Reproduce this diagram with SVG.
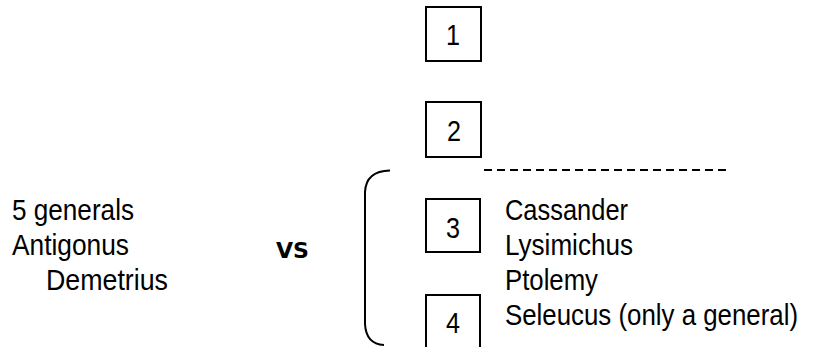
<svg xmlns="http://www.w3.org/2000/svg" width="819" height="347" viewBox="0 0 819 347">
<style>
  .box { fill: #ffffff; stroke: #000000; stroke-width: 2; }
  .t { font-family: "Liberation Sans Narrow", "Liberation Sans", Arial, sans-serif; font-size: 30px; fill: #000000; }
  .num { text-anchor: middle; }
  .vs { font-family: "DejaVu Sans", "Liberation Sans", sans-serif; font-weight: bold; font-size: 22px; fill: #000000; }
  .ln { fill: none; stroke: #000000; stroke-width: 2; }
</style>
<rect x="0" y="0" width="819" height="347" fill="#ffffff"/>
<g id="connectors">
  <path class="ln" d="M390,170.5 Q366,171 365,192 L365,324 Q366,344 384,345"/>
  <line class="ln" x1="484" y1="170" x2="727" y2="170" stroke-dasharray="8 5"/>
</g>
<g id="node-1">
  <rect class="box" x="426" y="7" width="55" height="54"/>
  <text class="t num" x="453" y="45" textLength="14" lengthAdjust="spacingAndGlyphs">1</text>
</g>
<g id="node-2">
  <rect class="box" x="426" y="102" width="55" height="55"/>
  <text class="t num" x="454" y="141" textLength="14" lengthAdjust="spacingAndGlyphs">2</text>
</g>
<g id="node-3">
  <rect class="box" x="426" y="199" width="54" height="53"/>
  <text class="t num" x="453" y="238" textLength="14" lengthAdjust="spacingAndGlyphs">3</text>
</g>
<g id="node-4">
  <rect class="box" x="426" y="295" width="54" height="56"/>
  <text class="t num" x="453" y="333" textLength="14" lengthAdjust="spacingAndGlyphs">4</text>
</g>
<g id="left-list">
  <text class="t" x="12" y="220" textLength="122" lengthAdjust="spacingAndGlyphs">5 generals</text>
  <text class="t" x="12" y="255" textLength="117" lengthAdjust="spacingAndGlyphs">Antigonus</text>
  <text class="t" x="46" y="290" textLength="122" lengthAdjust="spacingAndGlyphs">Demetrius</text>
</g>
<g id="vs">
  <text class="vs" x="276" y="258" textLength="33" lengthAdjust="spacingAndGlyphs">VS</text>
</g>
<g id="right-list">
  <text class="t" x="505" y="220" textLength="123" lengthAdjust="spacingAndGlyphs">Cassander</text>
  <text class="t" x="505" y="255" textLength="128" lengthAdjust="spacingAndGlyphs">Lysimichus</text>
  <text class="t" x="505" y="290" textLength="93" lengthAdjust="spacingAndGlyphs">Ptolemy</text>
  <text class="t" x="505" y="325" textLength="293" lengthAdjust="spacingAndGlyphs">Seleucus (only a general)</text>
</g>
</svg>
